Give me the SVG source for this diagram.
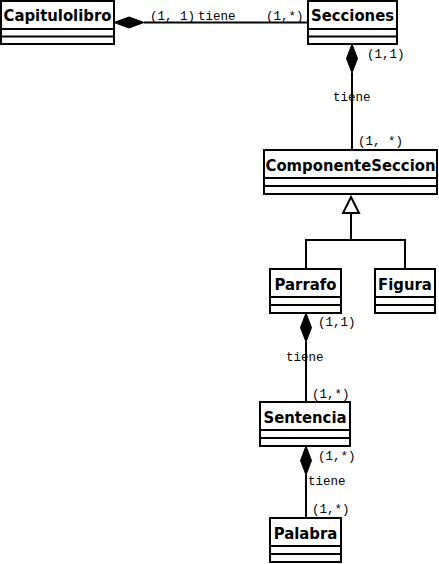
<svg xmlns="http://www.w3.org/2000/svg" width="439" height="564" viewBox="0 0 439 564">
<style>
.box{fill:#fff;stroke:#000;stroke-width:2}
.sep{stroke:#000;stroke-width:2}
.t{font-family:"DejaVu Sans Condensed","DejaVu Sans",sans-serif;font-weight:bold;font-size:16.5px;text-anchor:middle;fill:#000}
.m{font-family:"Liberation Mono","Courier New",monospace;font-size:12.5px;fill:#000}
.ln{stroke:#000;stroke-width:2;fill:none}
.dia{fill:#000;stroke:#000;stroke-width:1}
.tri{fill:#fff;stroke:#000;stroke-width:2}
</style>
<g id="connectors">
  <line class="ln" x1="144" y1="22.5" x2="308" y2="22.5"/>
  <polygon class="dia" points="114,22.5 129,17 144,22.5 129,28"/>
  <line class="ln" x1="352" y1="73" x2="352" y2="150"/>
  <polygon class="dia" points="352,44 357.5,58.5 352,73 346.5,58.5"/>
  <line class="ln" x1="351" y1="213" x2="351" y2="240"/>
  <polyline class="ln" points="306,269 306,240 405,240 405,269"/>
  <polygon class="tri" points="351,197 359,213 343,213"/>
  <line class="ln" x1="306" y1="342" x2="306" y2="402"/>
  <polygon class="dia" points="306,313 311.5,327.5 306,342 300.5,327.5"/>
  <line class="ln" x1="306" y1="475" x2="306" y2="518"/>
  <polygon class="dia" points="306,446 311.5,460.5 306,475 300.5,460.5"/>
  <text class="m" x="150" y="20">(1, 1)</text>
  <text class="m" x="198" y="20">tiene</text>
  <text class="m" x="266" y="20">(1,*)</text>
  <text class="m" x="367" y="58">(1,1)</text>
  <text class="m" x="333" y="101">tiene</text>
  <text class="m" x="358" y="145">(1, *)</text>
  <text class="m" x="318" y="326">(1,1)</text>
  <text class="m" x="286" y="361">tiene</text>
  <text class="m" x="312" y="398">(1,*)</text>
  <text class="m" x="318" y="460">(1,*)</text>
  <text class="m" x="308" y="485">tiene</text>
  <text class="m" x="312" y="513">(1,*)</text>
</g>
<g id="Capitulolibro">
  <rect class="box" x="1" y="1" width="113" height="43"/>
  <line class="sep" x1="1" y1="29" x2="114" y2="29"/>
  <line class="sep" x1="1" y1="36.5" x2="114" y2="36.5"/>
  <text class="t" x="57.5" y="21">Capitulolibro</text>
</g>
<g id="Secciones">
  <rect class="box" x="308" y="1" width="89" height="43"/>
  <line class="sep" x1="308" y1="29" x2="397" y2="29"/>
  <line class="sep" x1="308" y1="36.5" x2="397" y2="36.5"/>
  <text class="t" x="352.5" y="21">Secciones</text>
</g>
<g id="ComponenteSeccion">
  <rect class="box" x="264" y="150" width="173" height="44"/>
  <line class="sep" x1="264" y1="178" x2="437" y2="178"/>
  <line class="sep" x1="264" y1="186" x2="437" y2="186"/>
  <text class="t" x="350.5" y="171">ComponenteSeccion</text>
</g>
<g id="Parrafo">
  <rect class="box" x="270" y="269" width="71" height="44"/>
  <line class="sep" x1="270" y1="297" x2="341" y2="297"/>
  <line class="sep" x1="270" y1="305" x2="341" y2="305"/>
  <text class="t" x="305.5" y="290">Parrafo</text>
</g>
<g id="Figura">
  <rect class="box" x="375" y="269" width="60" height="44"/>
  <line class="sep" x1="375" y1="297" x2="435" y2="297"/>
  <line class="sep" x1="375" y1="305" x2="435" y2="305"/>
  <text class="t" x="405" y="290">Figura</text>
</g>
<g id="Sentencia">
  <rect class="box" x="260" y="402" width="90" height="44"/>
  <line class="sep" x1="260" y1="430" x2="350" y2="430"/>
  <line class="sep" x1="260" y1="438" x2="350" y2="438"/>
  <text class="t" x="305" y="423">Sentencia</text>
</g>
<g id="Palabra">
  <rect class="box" x="270" y="518" width="71" height="44"/>
  <line class="sep" x1="270" y1="546" x2="341" y2="546"/>
  <line class="sep" x1="270" y1="554" x2="341" y2="554"/>
  <text class="t" x="305.5" y="539">Palabra</text>
</g>
</svg>
